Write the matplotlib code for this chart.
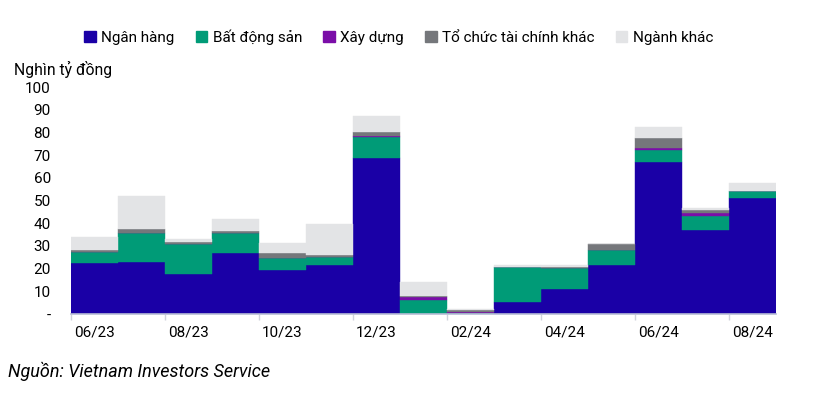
import numpy as np
import matplotlib.pyplot as plt
from matplotlib.patches import Patch

plt.rcParams['font.family'] = ['Roboto', 'DejaVu Sans']

months = ['06/23', '07/23', '08/23', '09/23', '10/23', '11/23', '12/23',
          '01/24', '02/24', '03/24', '04/24', '05/24', '06/24', '07/24', '08/24']
ngan_hang = [22.4, 23.0, 17.8, 26.7, 19.6, 21.4, 68.7, 0.0, 0.0, 5.5, 10.8, 21.4, 67.0, 36.9, 50.9]
bat_dong_san = [4.7, 12.5, 12.9, 8.8, 4.9, 3.5, 9.3, 6.3, 0.4, 15.1, 9.3, 6.6, 5.3, 6.2, 3.2]
xay_dung = [0.0, 0.0, 0.0, 0.0, 0.0, 0.0, 0.6, 1.1, 0.4, 0.0, 0.0, 0.0, 0.7, 1.3, 0.0]
to_chuc_tc = [1.1, 2.0, 0.9, 0.9, 2.2, 0.9, 1.8, 0.6, 0.8, 0.3, 0.8, 2.7, 4.4, 1.3, 0.0]
nganh_khac = [5.6, 14.3, 1.6, 5.5, 4.7, 14.0, 6.8, 6.2, 0.6, 0.8, 0.6, 0.0, 5.2, 0.8, 3.6]

series = [ngan_hang, bat_dong_san, xay_dung, to_chuc_tc, nganh_khac]
names = ['Ngân hàng', 'Bất động sản', 'Xây dựng', 'Tổ chức tài chính khác', 'Ngành khác']
colors = ['#1a00a6', '#009b77', '#7b0ea8', '#75777b', '#e3e4e6']

fig = plt.figure(figsize=(8.32, 3.93), dpi=100)
ax = fig.add_axes([0.0853, 0.201, 0.8474, 0.5776])

x = np.arange(len(months))
bottom = np.zeros(len(months))
for vals, c in zip(series, colors):
    ax.bar(x, vals, width=1.0, bottom=bottom, color=c, edgecolor=c, linewidth=0.3)
    bottom += np.array(vals)

ax.set_xlim(-0.5, len(months) - 0.5)
ax.set_ylim(0, 100)
ax.set_yticks(range(0, 101, 10))
ax.set_yticklabels(['-'] + [str(v) for v in range(10, 101, 10)], fontsize=11)
ax.tick_params(axis='y', length=0, pad=14.5)

ax.set_xticks(np.arange(-0.5, len(months), 2))
ax.set_xticklabels([])
ax.set_xticks(x[::2], minor=True)
ax.set_xticklabels(months[::2], minor=True, fontsize=11)
ax.tick_params(axis='x', which='major', length=4, color='#d0d3dc', width=1)
ax.tick_params(axis='x', which='minor', length=0, pad=8)

for s in ['top', 'right', 'left']:
    ax.spines[s].set_visible(False)
ax.spines['bottom'].set_color('#b8bdd6')
ax.spines['bottom'].set_linewidth(1.2)

fig.text(0.017, 0.822, 'Nghìn tỷ đồng', fontsize=11.3, va='center')

handles = [Patch(facecolor=c, edgecolor=c) for c in colors]
fig.legend(handles, names, loc='center left', bbox_to_anchor=(0.094, 0.905), ncol=5,
           frameon=False, fontsize=11, handlelength=0.75, handleheight=0.75,
           handletextpad=0.35, columnspacing=1.4, borderaxespad=0)

fig.text(0.01, 0.055, 'Nguồn: Vietnam Investors Service', fontsize=13, style='italic', va='center')

fig.savefig('out.png', dpi=100)
